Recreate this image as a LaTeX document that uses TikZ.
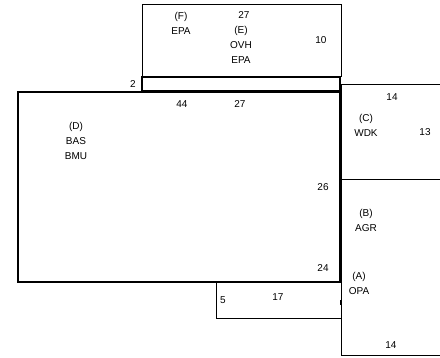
\documentclass[tikz,border=0pt]{standalone}
\usepackage{fontspec}
\setmainfont{Liberation Sans}
\usepackage{tikz}
\usetikzlibrary{positioning}
\tikzstyle{lbl} = [font=\fontsize{10}{15}\selectfont, inner sep=0pt, align=center]
\tikzstyle{thinwall} = [draw, line width=0.9pt]
\tikzstyle{wall} = [draw, line width=2.2pt]

\begin{document}
\begin{tikzpicture}[x=1pt, y=-1pt]
	\useasboundingbox (0,0) rectangle (440,357);
	% rooms
	\path [thinwall] (142,4) rectangle (341,76);
	\path [thinwall] (216,282) rectangle (341,318);
	\path [thinwall] (444,84) -- (341,84) -- (341,355) -- (444,355);
	\path [thinwall] (341,179) -- (444,179);
	\path [wall] (142,77) rectangle (340,91);
	\path [wall] (18,92) rectangle (340,282);
	\path [draw, line width=2pt] (341,300) -- (341,305);

	% labels
	\node [lbl] (F) at (181,23) {(F)\\EPA};
	\node [lbl] (Etop) at (244,15) {27};
	\node [lbl] (E) at (241,45) {(E)\\OVH\\EPA};
	\node [lbl] (Ew) at (321,40) {10};
	\node [lbl] (Sw) at (133,84) {2};
	\node [lbl] (Dtop) at (182,104) {44};
	\node [lbl] (Dtop2) at (240,104) {27};
	\node [lbl] (D) at (76,141) {(D)\\BAS\\BMU};
	\node [lbl] (Ctop) at (392,97) {14};
	\node [lbl] (C) at (366,125) {(C)\\WDK};
	\node [lbl] (Ce) at (425,132) {13};
	\node [lbl] (De) at (323,187) {26};
	\node [lbl] (B) at (366,220) {(B)\\AGR};
	\node [lbl] (Dse) at (323,268) {24};
	\node [lbl] (A) at (359,283) {(A)\\OPA};
	\node [lbl] (Gtop) at (278,297) {17};
	\node [lbl] (Gw) at (223,300) {5};
	\node [lbl] (Abot) at (391,345) {14};
\end{tikzpicture}
\end{document}
